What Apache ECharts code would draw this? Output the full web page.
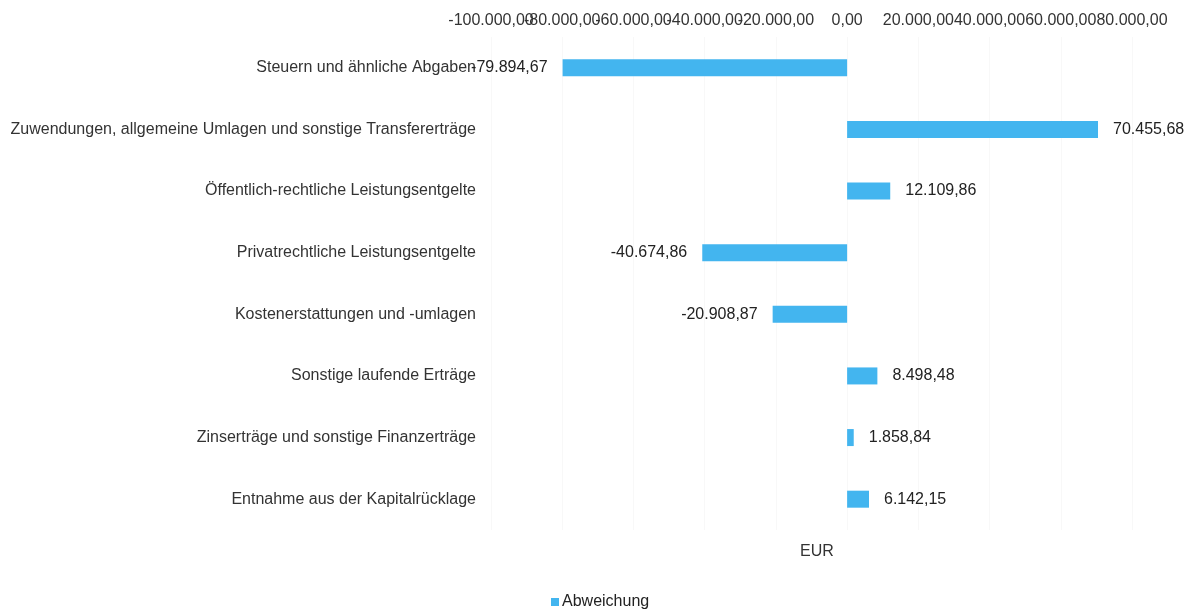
<!DOCTYPE html>
<html>
<head>
<meta charset="utf-8">
<script src="https://cdn.jsdelivr.net/npm/echarts@6/dist/echarts.min.js"></script>
<style>
  html, body { margin: 0; padding: 0; background: #ffffff; }
  #chart { width: 1188px; height: 612px; }
</style>
</head>
<body>
<div id="chart"></div>
<script>
  var categories = [
    "Steuern und ähnliche Abgaben",
    "Zuwendungen, allgemeine Umlagen und sonstige Transfererträge",
    "Öffentlich-rechtliche Leistungsentgelte",
    "Privatrechtliche Leistungsentgelte",
    "Kostenerstattungen und -umlagen",
    "Sonstige laufende Erträge",
    "Zinserträge und sonstige Finanzerträge",
    "Entnahme aus der Kapitalrücklage"
  ];
  var abweichung = [-79894.67, 70455.68, 12109.86, -40674.86, -20908.87, 8498.48, 1858.84, 6142.15];

  var axisMin = -100000;
  var axisMax = 80000;
  var axisStep = 20000;

  // deutsches Zahlenformat: 1.234,56
  function fmt(v) {
    var neg = v < 0;
    var parts = Math.abs(v).toFixed(2).split(".");
    var int = parts[0].replace(/\B(?=(\d{3})+(?!\d))/g, ".");
    return (neg ? "-" : "") + int + "," + parts[1];
  }

  var chart = echarts.init(document.getElementById("chart"), null, { renderer: "canvas" });

  var font = "Liberation Sans, Arial, sans-serif";

  function valueAxis(extra) {
    var axis = {
      type: "value",
      position: "top",
      min: axisMin,
      max: axisMax,
      interval: axisStep,
      axisLine: { show: false },
      axisTick: { show: false },
      splitLine: { show: false },
      axisLabel: {
        fontSize: 16,
        color: "#333333",
        margin: 8,
        hideOverlap: false
      }
    };
    for (var k in extra) {
      if (k === "axisLabel") {
        for (var j in extra.axisLabel) axis.axisLabel[j] = extra.axisLabel[j];
      } else {
        axis[k] = extra[k];
      }
    }
    return axis;
  }

  chart.setOption({
    backgroundColor: "#ffffff",
    animation: false,
    textStyle: { fontFamily: font },
    title: {
      text: "EUR",
      left: 795,
      top: 539,
      textStyle: { fontSize: 16, fontWeight: "normal", color: "#333333", fontFamily: font }
    },
    legend: {
      bottom: -3,
      left: 546,
      itemWidth: 8,
      itemHeight: 8,
      itemGap: 3,
      icon: "rect",
      textStyle: { fontSize: 16, color: "#222222", padding: [0, 0, 0, -2] },
      data: ["Abweichung"]
    },
    grid: {
      left: 491,
      right: 56,
      top: 37,
      bottom: 82,
      containLabel: false
    },
    xAxis: [
      // Hauptachse: alle Beschriftungen außer dem Minimum
      valueAxis({
        splitLine: { show: true, lineStyle: { color: "#f8f8f8" } },
        axisLabel: {
          showMinLabel: false,
          showMaxLabel: true,
          formatter: function (v) { return fmt(v); }
        }
      }),
      // zweite Achse nur für die überlappende Minimum-Beschriftung
      valueAxis({
        axisLabel: {
          formatter: function (v) { return v === axisMin ? fmt(v) : ""; }
        }
      })
    ],
    yAxis: {
      type: "category",
      inverse: true,
      data: categories,
      axisLine: { show: false },
      axisTick: { show: false },
      axisLabel: { fontSize: 16, color: "#333333", margin: 15 }
    },
    series: [
      {
        name: "Abweichung",
        type: "bar",
        xAxisIndex: 0,
        barWidth: 17,
        itemStyle: { color: "#43b5ef" },
        data: abweichung.map(function (v) {
          return {
            value: v,
            label: { position: v < 0 ? "left" : "right" }
          };
        }),
        label: {
          show: true,
          distance: 15,
          fontSize: 16,
          color: "#222222",
          formatter: function (p) { return fmt(p.value); }
        }
      }
    ]
  });
</script>
</body>
</html>
